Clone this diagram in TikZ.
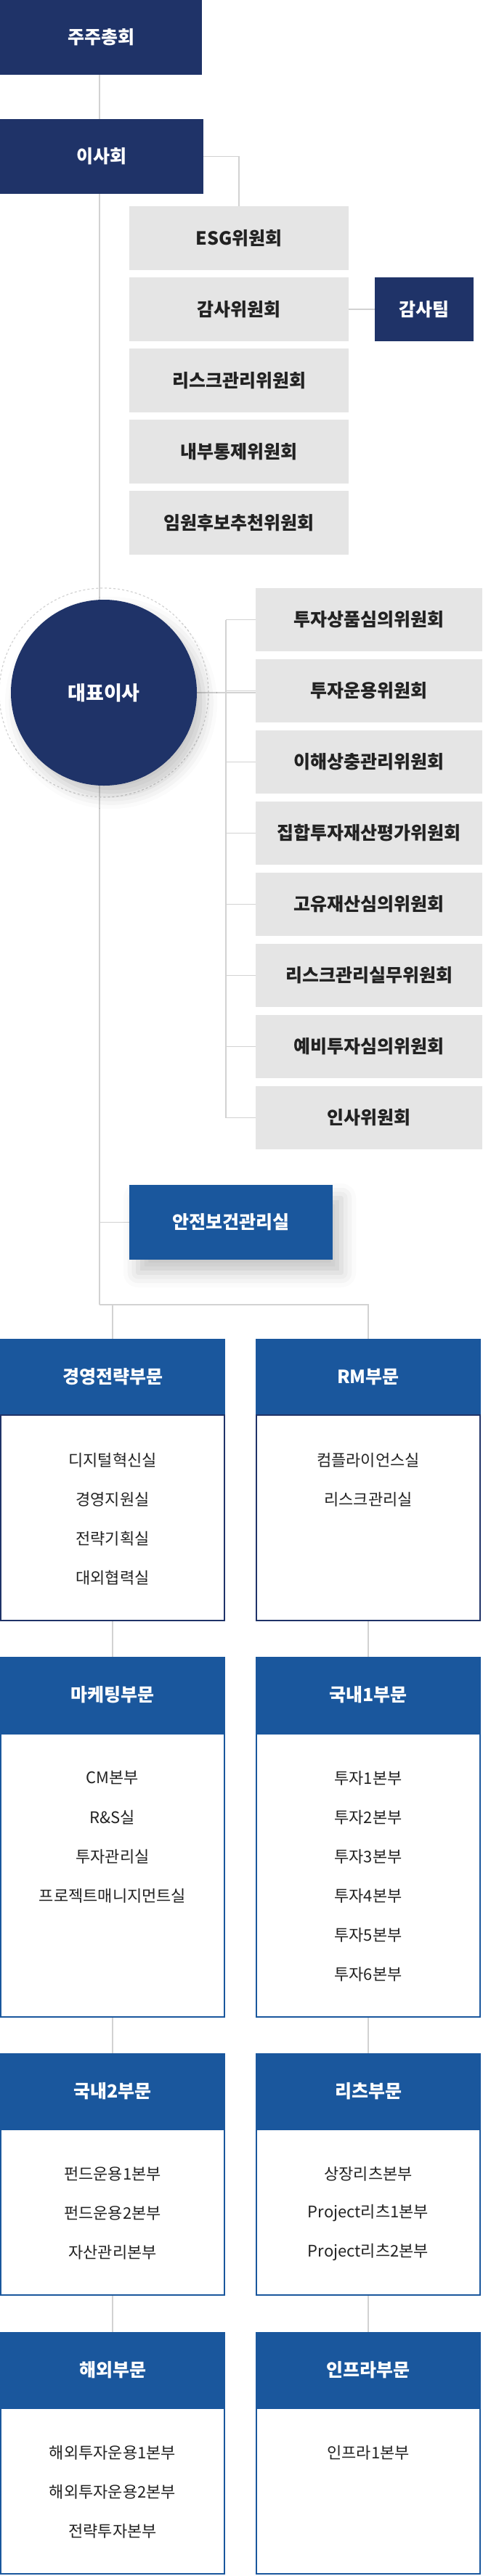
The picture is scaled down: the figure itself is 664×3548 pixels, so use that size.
\documentclass[tikz,border=0pt]{standalone}
\usepackage{fontspec}
\setmainfont{Noto Sans CJK KR}
\usepackage{tikz}
\usetikzlibrary{shadows.blur}
\definecolor{navy}{HTML}{1F3368}
\definecolor{divblue}{HTML}{1A579D}
\definecolor{boxgray}{HTML}{E5E5E5}
\definecolor{linegray}{HTML}{D2D2D2}
\definecolor{ink}{HTML}{222222}
\pgfdeclarelayer{background}
\pgfsetlayers{background,main}
\tikzset{
  link/.style={draw=linegray, line width=0.75pt},
  titlebox/.style={inner sep=0pt, outer sep=0pt, anchor=north west,
    font=\bfseries\fontsize{12.5}{15}\selectfont},
  navybox/.style={titlebox, fill=navy, text=white},
  committee/.style={titlebox, fill=boxgray, text=ink, minimum width=151pt, minimum height=44pt},
  subcommittee/.style={titlebox, fill=boxgray, text=ink, minimum width=156pt, minimum height=43.5pt},
  divhead/.style={titlebox, fill=divblue, text=white, minimum width=155pt, minimum height=52.5pt},
  divbody/.style={draw=#1, line width=1pt, inner sep=0pt, outer sep=0pt, anchor=north west, minimum width=154pt},
  unit/.style={font=\fontsize{11}{13}\selectfont, text=ink, inner sep=0pt}
}

\begin{document}
\begin{tikzpicture}[x=0.5pt, y=-0.5pt]
  \useasboundingbox (0,0) rectangle (664,3548);

  % --- Shareholders, board and its committees ---
  \node[navybox, minimum width=139pt, minimum height=51.5pt] (agm) at (0,0) {주주총회};
  \node[navybox, minimum width=140pt, minimum height=51.5pt] (board) at (0,164) {이사회};
  \foreach \n/\t [count=\i from 0] in {esg/ESG위원회, audit/감사위원회, risk/리스크관리위원회,
      control/내부통제위원회, nominate/임원후보추천위원회}
    \node[committee] (\n) at (178,{284+98*\i}) {\t};
  \node[navybox, minimum width=68pt, minimum height=44pt] (auditteam) at (516,382) {감사팀};
  \coordinate (spine) at (137,1797);

  % --- CEO and its committees ---
  \node[circle, draw=linegray, line width=0.6pt, dash pattern=on 1.5pt off 1.5pt,
    minimum size=144pt, inner sep=0pt] (ceoring) at (143,954) {};
  \node[circle, fill=navy, text=white, minimum size=128pt, inner sep=0pt,
    font=\bfseries\fontsize{13.5}{16}\selectfont,
    blur shadow={shadow xshift=5pt, shadow yshift=-7pt, shadow blur radius=9pt, shadow opacity=22}]
    (ceo) at (143,954) {대표이사};
  \foreach \n/\t [count=\i from 0] in {product/투자상품심의위원회, invest/투자운용위원회,
      conflict/이해상충관리위원회, valuation/집합투자재산평가위원회, proprietary/고유재산심의위원회,
      riskwork/리스크관리실무위원회, preinvest/예비투자심의위원회, hr/인사위원회}
    \node[subcommittee] (\n) at (352,{810+98*\i}) {\t};

  \node[navybox, fill=divblue, minimum width=140pt, minimum height=51.5pt,
    blur shadow={shadow xshift=6pt, shadow yshift=-9pt, shadow blur radius=10pt, shadow opacity=22}]
    (safety) at (178,1632) {안전보건관리실};

  % --- Divisions, row 1 ---
  \node[divhead] (mgmt) at (0,1844) {경영전략부문};
  \node[divbody=navy, minimum height=141.5pt] (mgmt-body) at (1,1949) {};
  \foreach \t [count=\i from 0] in {디지털혁신실, 경영지원실, 전략기획실, 대외협력실}
    \node[unit] (mgmt-u\i) at (155,{2011+54*\i}) {\t};
  \node[divhead] (rm) at (352,1844) {RM부문};
  \node[divbody=navy, minimum height=141.5pt] (rm-body) at (353,1949) {};
  \foreach \t [count=\i from 0] in {컴플라이언스실, 리스크관리실}
    \node[unit] (rm-u\i) at (507,{2011+54*\i}) {\t};

  % --- Row 2 ---
  \node[divhead] (mkt) at (0,2282) {마케팅부문};
  \node[divbody=divblue, minimum height=195pt] (mkt-body) at (1,2388) {};
  \foreach \t [count=\i from 0] in {CM본부, R\&S실, 투자관리실, 프로젝트매니지먼트실}
    \node[unit] (mkt-u\i) at (155,{2449+54*\i}) {\t};
  \node[divhead] (dom1) at (352,2282) {국내1부문};
  \node[divbody=divblue, minimum height=195pt] (dom1-body) at (353,2388) {};
  \foreach \k [count=\i from 0] in {1,...,6}
    \node[unit] (dom1-u\i) at (507,{2449+54*\i}) {투자\k{}본부};

  % --- Row 3 ---
  \node[divhead] (dom2) at (0,2828) {국내2부문};
  \node[divbody=divblue, minimum height=114pt] (dom2-body) at (1,2933) {};
  \foreach \t [count=\i from 0] in {펀드운용1본부, 펀드운용2본부, 자산관리본부}
    \node[unit] (dom2-u\i) at (155,{2994+54*\i}) {\t};
  \node[divhead] (reits) at (352,2828) {리츠부문};
  \node[divbody=divblue, minimum height=114pt] (reits-body) at (353,2933) {};
  \foreach \t [count=\i from 0] in {상장리츠본부, Project리츠1본부, Project리츠2본부}
    \node[unit] (reits-u\i) at (507,{2994+54*\i}) {\t};

  % --- Row 4 ---
  \node[divhead] (overseas) at (0,3212) {해외부문};
  \node[divbody=divblue, minimum height=114pt] (overseas-body) at (1,3317) {};
  \foreach \t [count=\i from 0] in {해외투자운용1본부, 해외투자운용2본부, 전략투자본부}
    \node[unit] (overseas-u\i) at (155,{3378+54*\i}) {\t};
  \node[divhead] (infra) at (352,3212) {인프라부문};
  \node[divbody=divblue, minimum height=114pt] (infra-body) at (353,3317) {};
  \node[unit] (infra-u0) at (507,3378) {인프라1본부};

  % --- connectors ---
  \begin{pgfonlayer}{background}
    \draw[link] (agm.south -| spine) -- (spine);
    \draw[link] (board.east) -| (esg.north);
    \draw[link] (audit.east) -- (auditteam.west);
    \draw[link] (ceo.east) -- (ceo.east -| invest.west);
    \draw[link] ([xshift=-20.5pt]product.west) -- ([xshift=-20.5pt]hr.west);
    \foreach \n in {product,invest,conflict,valuation,proprietary,riskwork,preinvest,hr}
      \draw[link] (\n.west) -- ++(-41,0);
    \draw[link] (safety.west) -- (safety.west -| spine);
    \draw[link] (spine) -| (mgmt.north);
    \draw[link] (spine) -| (rm.north);
    \foreach \u/\v in {mgmt-body/mkt, mkt-body/dom2, dom2-body/overseas,
        rm-body/dom1, dom1-body/reits, reits-body/infra}
      \draw[link] (\u.south) -- (\v.north);
  \end{pgfonlayer}
\end{tikzpicture}
\end{document}
